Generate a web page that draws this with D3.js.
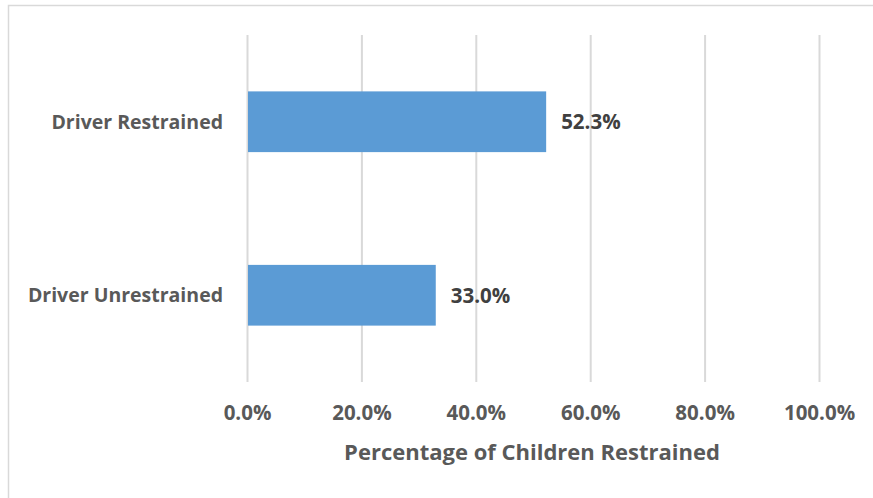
<!DOCTYPE html>
<html>
<head>
<meta charset="utf-8">
<script src="https://cdn.jsdelivr.net/npm/d3@7"></script>
<style>
  html, body { margin: 0; padding: 0; background: #fff; }
  svg { display: block; }
  text { font-family: "Open Sans", "Noto Sans", sans-serif; font-weight: 700; }
</style>
</head>
<body>
<svg id="chart" width="873" height="498"></svg>
<script>
// Share of children restrained, by driver restraint status
const categories = ["Driver Restrained", "Driver Unrestrained"];
const values = [52.3, 33.0];
const tickValues = [0, 20, 40, 60, 80, 100];
const axisTitle = "Percentage of Children Restrained";

const svg = d3.select("#chart");
const W = 873, H = 498;

// chart frame (runs past the right and bottom edges of the view)
svg.append("rect")
  .attr("x", 8.5).attr("y", 5.5)
  .attr("width", W + 20).attr("height", H + 20)
  .attr("fill", "#fff").attr("stroke", "#d9d9d9").attr("stroke-width", 1.5);

const plot = { left: 247, right: 819, top: 35, bottom: 382 };

const x = d3.scaleLinear().domain([0, 100]).range([plot.left, plot.right]);
const y = d3.scaleBand().domain(categories).range([plot.top, plot.bottom])
  .paddingInner(0.65).paddingOuter(0.325);

// vertical gridlines
svg.append("g")
  .selectAll("line")
  .data(tickValues)
  .join("line")
  .attr("x1", d => x(d) + 0.5).attr("x2", d => x(d) + 0.5)
  .attr("y1", plot.top).attr("y2", plot.bottom)
  .attr("stroke", "#d9d9d9").attr("stroke-width", 2);

// bars
svg.append("g")
  .selectAll("rect")
  .data(categories)
  .join("rect")
  .attr("x", x(0) + 1)
  .attr("y", d => y(d))
  .attr("width", (d, i) => x(values[i]) - x(0) - 1)
  .attr("height", y.bandwidth())
  .attr("fill", "#5b9bd5");

// value labels
svg.append("g")
  .selectAll("text")
  .data(categories)
  .join("text")
  .attr("x", (d, i) => x(values[i]) + 15)
  .attr("y", d => y(d) + y.bandwidth() / 2)
  .attr("dy", "0.36em")
  .attr("fill", "#404040")
  .attr("font-size", 20.5)
  .text((d, i) => values[i].toFixed(1) + "%");

// category axis labels
svg.append("g")
  .selectAll("text")
  .data(categories)
  .join("text")
  .attr("x", plot.left - 24)
  .attr("y", d => y(d) + y.bandwidth() / 2)
  .attr("dy", "0.36em")
  .attr("text-anchor", "end")
  .attr("fill", "#595959")
  .attr("font-size", 19.5)
  .text(d => d);

// value axis tick labels
const xAxis = d3.axisBottom(x)
  .tickValues(tickValues)
  .tickSize(0)
  .tickPadding(0)
  .tickFormat(d => d.toFixed(1) + "%");

const ax = svg.append("g")
  .attr("transform", `translate(0, ${plot.bottom + 23})`)
  .call(xAxis);
ax.select(".domain").remove();
ax.selectAll("text")
  .attr("fill", "#595959")
  .attr("font-size", 20.5)
  .style("font-family", "'Open Sans', 'Noto Sans', sans-serif")
  .style("font-weight", 700);

// axis title
svg.append("text")
  .attr("x", 532)
  .attr("y", 460)
  .attr("text-anchor", "middle")
  .attr("fill", "#595959")
  .attr("font-size", 22)
  .text(axisTitle);
</script>
</body>
</html>
